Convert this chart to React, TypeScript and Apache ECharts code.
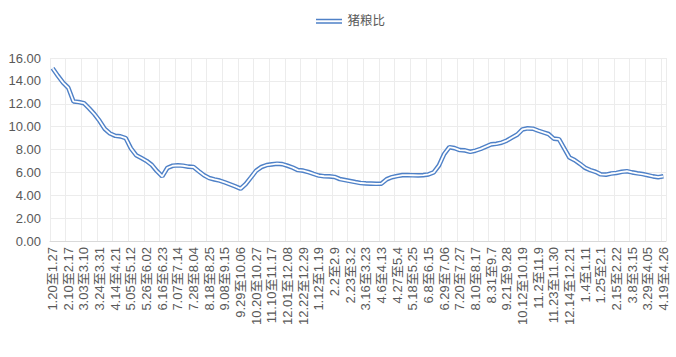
import React, { useEffect, useRef } from "react";
import * as echarts from "echarts";

const seriesName = "猪粮比";

const weeks2021 = [
  "1.20至1.27", "1.27至2.03", "2.03至2.10", "2.10至2.17", "2.17至2.24", "2.24至3.03", "3.03至3.10",
  "3.10至3.17", "3.17至3.24", "3.24至3.31", "3.31至4.07", "4.07至4.14", "4.14至4.21", "4.21至4.28",
  "4.28至5.05", "5.05至5.12", "5.12至5.19", "5.19至5.26", "5.26至6.02", "6.02至6.09", "6.09至6.16",
  "6.16至6.23", "6.23至6.30", "6.30至7.07", "7.07至7.14", "7.14至7.21", "7.21至7.28", "7.28至8.04",
  "8.04至8.11", "8.11至8.18", "8.18至8.25", "8.25至9.01", "9.01至9.08", "9.08至9.15", "9.15至9.22",
  "9.22至9.29", "9.29至10.06", "10.06至10.13", "10.13至10.20", "10.20至10.27", "10.27至11.03",
  "11.03至11.10", "11.10至11.17", "11.17至11.24", "11.24至12.01", "12.01至12.08", "12.08至12.15",
  "12.15至12.22", "12.22至12.29",
];
const weeks2022 = [
  "12.29至1.5", "1.5至1.12", "1.12至1.19", "1.19至1.26", "1.26至2.2", "2.2至2.9", "2.9至2.16",
  "2.16至2.23", "2.23至3.2", "3.2至3.9", "3.9至3.16", "3.16至3.23", "3.23至3.30", "3.30至4.6",
  "4.6至4.13", "4.13至4.20", "4.20至4.27", "4.27至5.4", "5.4至5.11", "5.11至5.18", "5.18至5.25",
  "5.25至6.1", "6.1至6.8", "6.8至6.15", "6.15至6.22", "6.22至6.29", "6.29至7.06", "7.6至7.13",
  "7.13至7.20", "7.20至7.27", "7.27至8.3", "8.3至8.10", "8.10至8.17", "8.17至8.24", "8.24至8.31",
  "8.31至9.7", "9.7至9.14", "9.14至9.21", "9.21至9.28", "9.28至10.5", "10.5至10.12", "10.12至10.19",
  "10.19至10.26", "10.26至11.2", "11.2至11.9", "11.9至11.16", "11.16至11.23", "11.23至11.30",
  "11.30至12.7", "12.7至12.14", "12.14至12.21", "12.21至12.28",
];
const weeks2023 = [
  "12.28至1.4", "1.4至1.11", "1.11至1.18", "1.18至1.25", "1.25至2.1", "2.1至2.8", "2.8至2.15",
  "2.15至2.22", "2.22至3.1", "3.1至3.8", "3.8至3.15", "3.15至3.22", "3.22至3.29", "3.29至4.05",
  "4.05至4.12", "4.12至4.19", "4.19至4.26",
];

const ratio2021 = [
  15.1, 14.45, 13.85, 13.4, 12.2, 12.15, 12.05, 11.6, 11.1, 10.5, 9.8, 9.4, 9.2, 9.15, 9.0, 8.1, 7.5,
  7.25, 7.0, 6.65, 6.1, 5.65, 6.4, 6.58, 6.62, 6.58, 6.5, 6.47, 6.1, 5.75, 5.5, 5.38, 5.28, 5.12, 4.95,
  4.77, 4.57, 4.98, 5.56, 6.15, 6.47, 6.64, 6.7, 6.76, 6.72, 6.58, 6.42, 6.2, 6.15,
];
const ratio2022 = [
  6.03, 5.87, 5.72, 5.66, 5.65, 5.6, 5.42, 5.33, 5.24, 5.15, 5.07, 5.04, 5.02, 5.0, 5.02, 5.4, 5.58,
  5.68, 5.76, 5.76, 5.75, 5.74, 5.76, 5.82, 6.0, 6.6, 7.6, 8.2, 8.12, 7.95, 7.92, 7.8, 7.9, 8.05, 8.25,
  8.45, 8.5, 8.6, 8.78, 9.05, 9.3, 9.75, 9.85, 9.82, 9.65, 9.5, 9.35, 8.95, 8.9, 8.1, 7.3, 7.07,
];
const ratio2023 = [
  6.75, 6.4, 6.2, 6.05, 5.83, 5.8, 5.9, 5.95, 6.05, 6.1, 6.0, 5.92, 5.85, 5.75, 5.65, 5.58, 5.66,
];

const yTicks = { min: 0, max: 16, interval: 2 };

const categories = [...weeks2021, ...weeks2022, ...weeks2023];
const values = [...ratio2021, ...ratio2022, ...ratio2023];

const FONT = "'Liberation Sans', 'Noto Sans CJK SC', sans-serif";
const TEXT = "#595959";
const BLUE = "#4f81c7";

export default function App() {
  const ref = useRef<HTMLDivElement>(null);
  useEffect(() => {
    if (!ref.current) return;
    const chart = echarts.init(ref.current, undefined, { renderer: "svg" });
    chart.setOption({
      animation: false,
      backgroundColor: "#ffffff",
      textStyle: { fontFamily: FONT },
      legend: {
        data: [seriesName],
        top: 10,
        left: 311,
        itemWidth: 27,
        itemHeight: 5,
        itemGap: 6,
        icon: "path://M0,0H26V1.6H0Z M0,3.4H26V5H0Z",
        textStyle: { color: TEXT, fontSize: 12.5, fontFamily: FONT },
      },
      grid: { left: 50, right: 10, top: 58, bottom: 116, containLabel: false },
      xAxis: {
        type: "category",
        data: categories,
        boundaryGap: true,
        axisLine: { show: true, lineStyle: { color: "#d9d9d9", width: 1 } },
        axisTick: { show: false },
        axisLabel: {
          interval: 2,
          rotate: 90,
          margin: 6,
          color: TEXT,
          fontSize: 13,
          fontFamily: FONT,
        },
        splitLine: { show: true, interval: 2, lineStyle: { color: "#ececec", width: 1 } },
      },
      yAxis: {
        type: "value",
        min: yTicks.min,
        max: yTicks.max,
        interval: yTicks.interval,
        axisLine: { show: false },
        axisTick: { show: false },
        axisLabel: {
          margin: 9,
          color: TEXT,
          fontSize: 13,
          fontFamily: FONT,
          formatter: (v: number) => v.toFixed(2),
        },
        splitLine: { show: true, lineStyle: { color: "#ececec", width: 1 } },
      },
      series: [
        {
          name: seriesName,
          type: "line",
          data: values,
          symbol: "none",
          color: BLUE,
          lineStyle: { color: BLUE, width: 4.6 },
          z: 2,
        },
        {
          name: seriesName + " ",
          type: "line",
          data: values,
          symbol: "none",
          color: "#ffffff",
          lineStyle: { color: "#ffffff", width: 1.8 },
          silent: true,
          z: 3,
        },
      ],
    });
    return () => chart.dispose();
  }, []);
  return (
    <div
      ref={ref}
      style={{ position: "fixed", left: 0, top: 0, width: 676, height: 357, background: "#fff" }}
    />
  );
}
